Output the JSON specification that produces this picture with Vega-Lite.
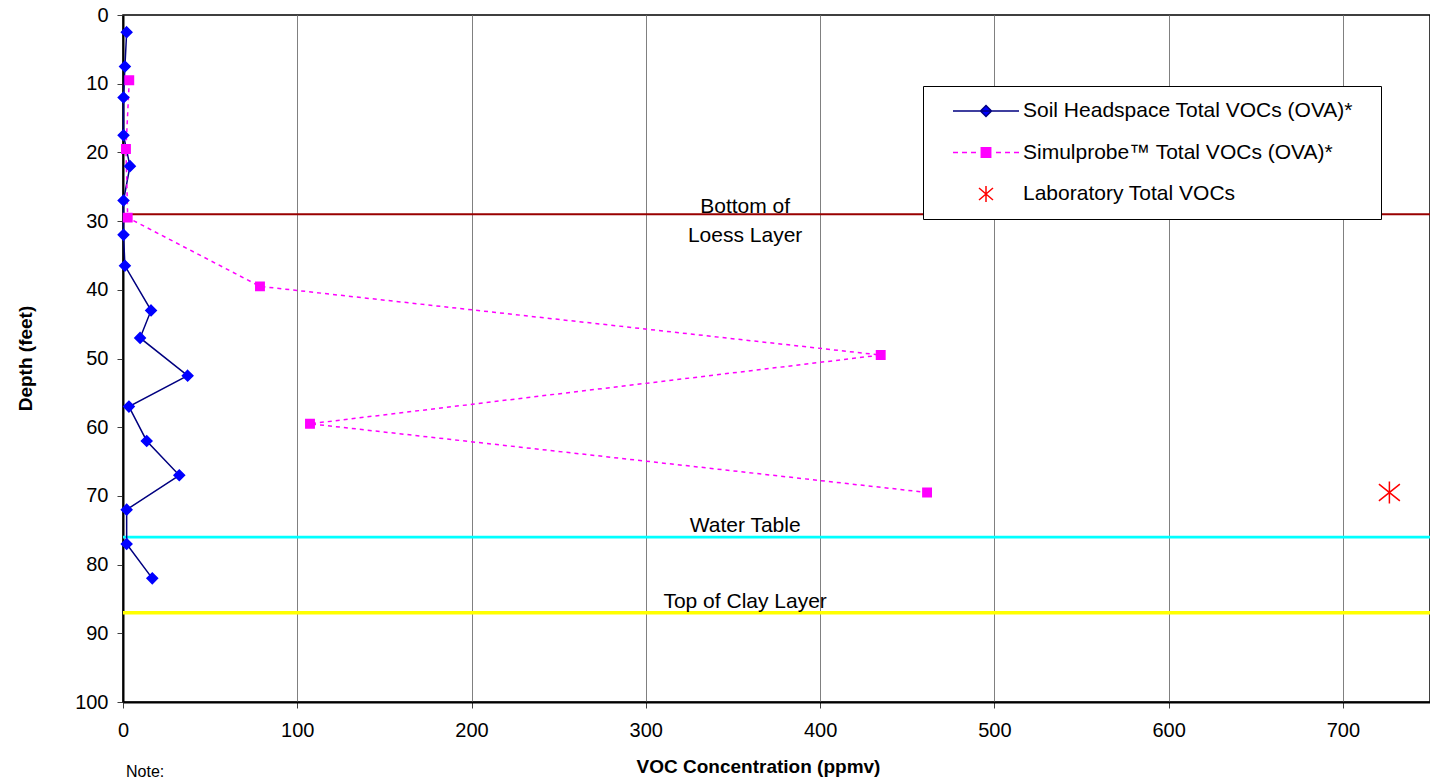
{
  "$schema": "https://vega.github.io/schema/vega-lite/v6.json",
  "width": 1307,
  "height": 687,
  "autosize": "none",
  "padding": {"left": 123, "top": 15, "right": 0, "bottom": 77},
  "background": "white",
  "config": {
    "font": "Liberation Sans",
    "view": {"stroke": "black", "strokeWidth": 1.5},
    "axis": {"labelFont": "Liberation Sans", "titleFont": "Liberation Sans", "labelColor": "black", "titleColor": "black"},
    "legend": {
      "orient": "none", "legendX": 800, "legendY": 71,
      "fillColor": "white", "strokeColor": "black",
      "padding": 14,
      "labelFont": "Liberation Sans", "labelFontSize": 21, "labelColor": "black", "labelLimit": 600,
      "symbolSize": 400, "symbolOffset": 38, "labelOffset": 26, "rowPadding": 20.5,
      "symbolOpacity": 1, "symbolStrokeWidth": 1.5
    }
  },
  "title": {"text": "Note:", "orient": "bottom", "anchor": "start", "frame": "group", "fontSize": 16, "fontWeight": "normal", "font": "Liberation Sans", "color": "black", "offset": -12, "dx": 3},
  "datasets": {
    "samples": [
      {"series": "Soil Headspace Total VOCs (OVA)*", "voc": 2.1, "depth": 2.5},
      {"series": "Soil Headspace Total VOCs (OVA)*", "voc": 1.1, "depth": 7.5},
      {"series": "Soil Headspace Total VOCs (OVA)*", "voc": 0.3, "depth": 12},
      {"series": "Soil Headspace Total VOCs (OVA)*", "voc": 0.3, "depth": 17.5},
      {"series": "Soil Headspace Total VOCs (OVA)*", "voc": 4.0, "depth": 22},
      {"series": "Soil Headspace Total VOCs (OVA)*", "voc": 0.3, "depth": 27},
      {"series": "Soil Headspace Total VOCs (OVA)*", "voc": 0.3, "depth": 32},
      {"series": "Soil Headspace Total VOCs (OVA)*", "voc": 1.1, "depth": 36.5},
      {"series": "Soil Headspace Total VOCs (OVA)*", "voc": 16.1, "depth": 43},
      {"series": "Soil Headspace Total VOCs (OVA)*", "voc": 9.8, "depth": 47},
      {"series": "Soil Headspace Total VOCs (OVA)*", "voc": 37.1, "depth": 52.5},
      {"series": "Soil Headspace Total VOCs (OVA)*", "voc": 3.4, "depth": 57},
      {"series": "Soil Headspace Total VOCs (OVA)*", "voc": 13.6, "depth": 62},
      {"series": "Soil Headspace Total VOCs (OVA)*", "voc": 32.3, "depth": 67},
      {"series": "Soil Headspace Total VOCs (OVA)*", "voc": 2.1, "depth": 72},
      {"series": "Soil Headspace Total VOCs (OVA)*", "voc": 2.1, "depth": 77},
      {"series": "Soil Headspace Total VOCs (OVA)*", "voc": 16.8, "depth": 82},
      {"series": "Simulprobe™ Total VOCs (OVA)*", "voc": 3.6, "depth": 9.5},
      {"series": "Simulprobe™ Total VOCs (OVA)*", "voc": 1.7, "depth": 19.5},
      {"series": "Simulprobe™ Total VOCs (OVA)*", "voc": 2.7, "depth": 29.5},
      {"series": "Simulprobe™ Total VOCs (OVA)*", "voc": 78.6, "depth": 39.5},
      {"series": "Simulprobe™ Total VOCs (OVA)*", "voc": 434.8, "depth": 49.5},
      {"series": "Simulprobe™ Total VOCs (OVA)*", "voc": 107.3, "depth": 59.5},
      {"series": "Simulprobe™ Total VOCs (OVA)*", "voc": 461.4, "depth": 69.5},
      {"series": "Laboratory Total VOCs", "voc": 726.7, "depth": 69.5}
    ],
    "features": [
      {"feature": "Bottom of\nLoess Layer", "depth": 29},
      {"feature": "Water Table", "depth": 76},
      {"feature": "Top of Clay Layer", "depth": 87}
    ]
  },
  "layer": [
    {
      "data": {"name": "features"},
      "mark": {"type": "rule", "clip": true},
      "encoding": {
        "y": {"field": "depth", "type": "quantitative", "scale": {"domain": [0, 100], "reverse": true, "nice": false}},
        "color": {"field": "feature", "type": "nominal", "scale": {"domain": ["Bottom of\nLoess Layer", "Water Table", "Top of Clay Layer"], "range": ["#990000", "#00FFFF", "#FFFF00"]}, "legend": null},
        "strokeWidth": {"field": "feature", "type": "nominal", "scale": {"domain": ["Bottom of\nLoess Layer", "Water Table", "Top of Clay Layer"], "range": [2, 3.5, 3.5]}, "legend": null}
      }
    },
    {
      "data": {"name": "features"},
      "transform": [{"filter": "datum.depth < 40"}],
      "mark": {"type": "text", "font": "Liberation Sans", "fontSize": 21, "color": "black", "align": "center", "baseline": "alphabetic", "lineBreak": "\n", "lineHeight": 29, "dy": -1},
      "encoding": {
        "x": {"datum": 357, "type": "quantitative"},
        "y": {"field": "depth", "type": "quantitative"},
        "text": {"field": "feature"}
      }
    },
    {
      "data": {"name": "features"},
      "transform": [{"filter": "datum.depth > 40"}],
      "mark": {"type": "text", "font": "Liberation Sans", "fontSize": 21, "color": "black", "align": "center", "baseline": "alphabetic", "dy": -5},
      "encoding": {
        "x": {"datum": 357, "type": "quantitative"},
        "y": {"field": "depth", "type": "quantitative"},
        "text": {"field": "feature"}
      }
    },
    {
      "data": {"name": "samples"},
      "transform": [{"filter": "datum.series === 'Soil Headspace Total VOCs (OVA)*'"}],
      "mark": {"type": "line", "color": "#000080", "strokeWidth": 1.5},
      "encoding": {
        "x": {"field": "voc", "type": "quantitative"},
        "y": {"field": "depth", "type": "quantitative"},
        "order": {"field": "depth", "type": "quantitative"}
      }
    },
    {
      "data": {"name": "samples"},
      "transform": [{"filter": "datum.series === 'Simulprobe™ Total VOCs (OVA)*'"}],
      "mark": {"type": "line", "color": "#FF00FF", "strokeWidth": 1.5, "strokeDash": [4, 4]},
      "encoding": {
        "x": {"field": "voc", "type": "quantitative"},
        "y": {"field": "depth", "type": "quantitative"},
        "order": {"field": "depth", "type": "quantitative"}
      }
    },
    {
      "data": {"name": "samples"},
      "mark": {"type": "point", "filled": true, "opacity": 0, "size": 400, "strokeWidth": 1.5},
      "encoding": {
        "x": {"field": "voc", "type": "quantitative"},
        "y": {"field": "depth", "type": "quantitative"},
        "color": {
          "field": "series", "type": "nominal",
          "scale": {"domain": ["Soil Headspace Total VOCs (OVA)*", "Simulprobe™ Total VOCs (OVA)*", "Laboratory Total VOCs"], "range": ["#0000FF", "#FF00FF", "#FF0000"]},
          "legend": {"title": null}
        },
        "stroke": {
          "field": "series", "type": "nominal",
          "scale": {"domain": ["Soil Headspace Total VOCs (OVA)*", "Simulprobe™ Total VOCs (OVA)*", "Laboratory Total VOCs"], "range": ["#000080", "#FF00FF", "#FF0000"]},
          "legend": {"title": null}
        },
        "shape": {
          "field": "series", "type": "nominal",
          "scale": {"domain": ["Soil Headspace Total VOCs (OVA)*", "Simulprobe™ Total VOCs (OVA)*", "Laboratory Total VOCs"], "range": ["M37.8,0M-3.3,0L3.3,0M0,-0.55L0.55,0L0,0.55L-0.55,0Z", "M-3.3,0L-2.8,0M-2.4,0L-1.9,0M-1.5,0L-1,0M1,0L1.5,0M1.9,0L2.4,0M2.8,0L3.3,0M-0.47,-0.47L0.47,-0.47L0.47,0.47L-0.47,0.47Z", "M0,-0.8L0,0.8M-0.7,-0.6L0.7,0.6M-0.7,0.6L0.7,-0.6"]},
          "legend": {"title": null}
        }
      }
    },
    {
      "data": {"name": "samples"},
      "mark": {"type": "point", "filled": true, "opacity": 1, "size": 110, "strokeWidth": 1.5},
      "encoding": {
        "x": {
          "field": "voc", "type": "quantitative",
          "scale": {"domain": [0, 750], "nice": false, "zero": true},
          "axis": {
            "values": [0, 100, 200, 300, 400, 500, 600, 700],
            "title": "VOC Concentration (ppmv)",
            "titleFontSize": 19, "titleFontWeight": "bold",
            "titleX": 635, "titleY": 64, "titleBaseline": "middle", "titleAnchor": "middle", "titleAlign": "center",
            "labelFontSize": 20, "labelPadding": 12, "labelFlush": false,
            "grid": true, "gridColor": "#808080", "gridWidth": 1,
            "domainColor": "black", "domainWidth": 2,
            "tickColor": "#404040", "tickSize": 6, "tickWidth": 1
          }
        },
        "y": {
          "field": "depth", "type": "quantitative",
          "axis": {
            "values": [0, 10, 20, 30, 40, 50, 60, 70, 80, 90, 100],
            "title": "Depth (feet)",
            "titleFontSize": 19, "titleFontWeight": "bold",
            "titleX": -98, "titleY": 343, "titleBaseline": "middle", "titleAlign": "center", "titleAngle": -90,
            "labelFontSize": 20, "labelPadding": 9, "labelFlush": false, "labelBaseline": "middle",
            "grid": false,
            "domainColor": "black", "domainWidth": 2,
            "tickColor": "#404040", "tickSize": 6, "tickWidth": 1
          }
        },
        "color": {
          "field": "series", "type": "nominal",
          "scale": {"domain": ["Soil Headspace Total VOCs (OVA)*", "Simulprobe™ Total VOCs (OVA)*", "Laboratory Total VOCs"], "range": ["#0000FF", "#FF00FF", "#FF0000"]},
          "legend": null
        },
        "stroke": {
          "field": "series", "type": "nominal",
          "scale": {"domain": ["Soil Headspace Total VOCs (OVA)*", "Simulprobe™ Total VOCs (OVA)*", "Laboratory Total VOCs"], "range": ["#0000FF", "#FF00FF", "#FF0000"]},
          "legend": null
        },
        "shape": {
          "field": "series", "type": "nominal",
          "scale": {"domain": ["Soil Headspace Total VOCs (OVA)*", "Simulprobe™ Total VOCs (OVA)*", "Laboratory Total VOCs"], "range": ["M0,-1L1,0L0,1L-1,0Z", "M-0.8,-0.8L0.8,-0.8L0.8,0.8L-0.8,0.8Z", "M0,-2.1L0,2.1M-2,-1.6L2,1.6M-2,1.6L2,-1.6"]},
          "legend": null
        }
      }
    }
  ],
  "resolve": {"scale": {"color": "independent", "stroke": "independent", "shape": "independent", "strokeWidth": "independent"}}
}
